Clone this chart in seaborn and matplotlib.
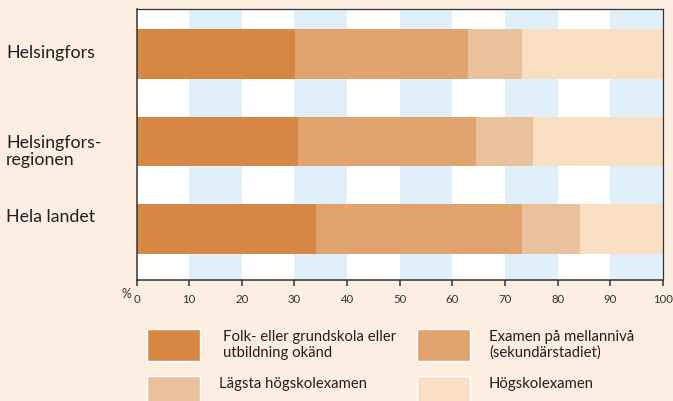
import matplotlib
matplotlib.use("Agg")
import matplotlib.pyplot as plt
import matplotlib.transforms as mtransforms
from matplotlib.patches import Rectangle
import numpy as np
import pandas as pd
import seaborn as sns

# ---- data ----
categories = ["Helsingfors", "Helsingfors-\nregionen", "Hela landet"]
series_names = ["Folk- eller grundskola eller\nutbildning okänd",
                "Examen på mellannivå\n(sekundärstadiet)",
                "Lägsta högskolexamen",
                "Högskolexamen"]
folk = [30.1, 30.7, 34.1]
mellan = [32.9, 33.8, 39.2]
lagsta = [10.2, 10.8, 11.0]
hogsk = [26.8, 24.7, 15.7]
x_ticks = [0, 10, 20, 30, 40, 50, 60, 70, 80, 90, 100]

colors = ["#D78744", "#E1A46E", "#EAC19D", "#F9E0C3"]
BG = "#FCEFE2"
BLUE = "#DFF0FA"
TXT = "#231F20"

sns.set_theme(style="white")
plt.rcParams["font.family"] = ["Lato", "DejaVu Sans"]

W, H = 673, 401
fig = plt.figure(figsize=(W / 100, H / 100), dpi=100, facecolor=BG)
ax = fig.add_axes([136.5 / W, 1 - 279.5 / H, (663 - 136.5) / W, (279.5 - 9) / H])
ax.set_facecolor("white")

# alternating background bands
for i, lo in enumerate(x_ticks[:-1]):
    if i % 2 == 1:
        ax.axvspan(lo, x_ticks[i + 1], color=BLUE, lw=0, zorder=0)

df = pd.DataFrame({"cat": categories, "folk": folk, "mellan": mellan,
                   "lagsta": lagsta, "hogsk": hogsk})
stack = [df["folk"],
         df["folk"] + df["mellan"],
         df["folk"] + df["mellan"] + df["lagsta"],
         df["folk"] + df["mellan"] + df["lagsta"] + df["hogsk"]]

for k in range(3, -1, -1):
    sns.barplot(x=stack[k], y=df["cat"], color=colors[k], saturation=1,
                width=0.571, orient="h", errorbar=None, linewidth=0,
                ax=ax, zorder=2)

ax.set_xlim(0, 100)
ax.set_ylim(2.577, -0.514)
ax.set_xlabel("")
ax.set_ylabel("")
ax.set_xticks(x_ticks)
ax.set_xticklabels([str(t) for t in x_ticks], fontsize=8.2, color="#333333")
ax.tick_params(axis="x", length=4.5, width=1.1, color="#333333", pad=6, bottom=True)
ax.tick_params(axis="y", length=0, pad=94)
for lab in ax.get_yticklabels():
    lab.set_horizontalalignment("left")
    lab.set_fontsize(12.8)
    lab.set_color(TXT)
    lab.set_linespacing(1.12)
for lab, dy in zip(ax.get_yticklabels(), [1.5, -5.5, 10]):
    lab.set_transform(lab.get_transform() +
                      mtransforms.ScaledTranslation(0, dy / 72, fig.dpi_scale_trans))

for s in ax.spines.values():
    s.set_visible(True)
    s.set_color("#333333")
    s.set_linewidth(0.9)
ax.spines["left"].set_linewidth(1.1)
ax.spines["bottom"].set_linewidth(1.1)

fig.text(126.5 / W, 1 - 294.5 / H, "%", fontsize=9, color="#333333",
         ha="center", va="center")

# legend (manual)
pw, ph = 53, 31.5
patch_pos = [(147, 329), (417, 329), (147, 376), (417, 376)]
text_pos = [(223, 345), (489, 345), (219, 384), (489, 384)]
for k in range(4):
    px, py = patch_pos[k]
    fig.add_artist(Rectangle((px / W, 1 - (py + ph) / H), pw / W, ph / H,
                             transform=fig.transFigure, facecolor=colors[k],
                             edgecolor="white", linewidth=1.0))
    tx, ty = text_pos[k]
    fig.text(tx / W, 1 - ty / H, series_names[k], fontsize=10.7, color=TXT,
             ha="left", va="center", linespacing=1.1)

fig.savefig("out.png", dpi=100, facecolor=BG)
